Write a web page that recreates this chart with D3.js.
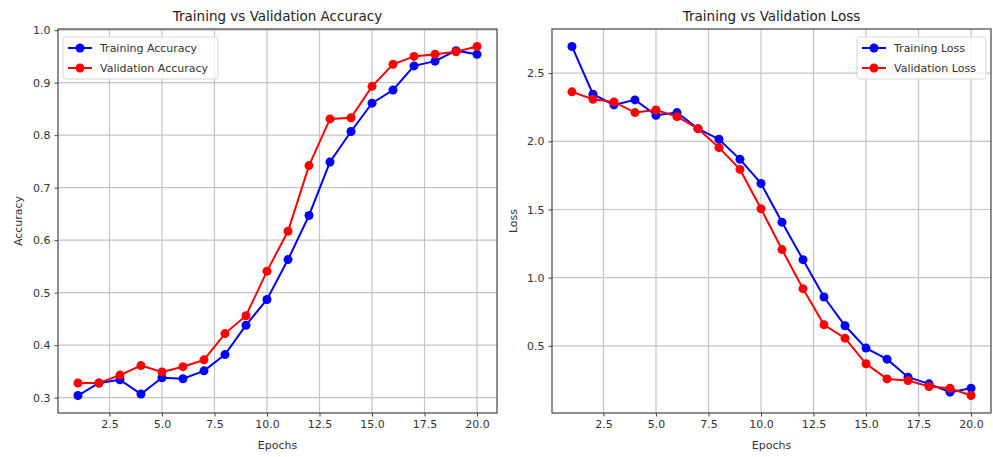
<!DOCTYPE html>
<html>
<head>
<meta charset="utf-8">
<script src="https://cdn.jsdelivr.net/npm/d3@7"></script>
<style>
  body { margin: 0; background: #fff; }
  svg { font-family: "DejaVu Sans", sans-serif; }
</style>
</head>
<body>
<div id="chart"></div>
<script>
// data
var epochs = d3.range(1, 21);
var trainAcc = [0.304, 0.328, 0.334, 0.307, 0.338, 0.336, 0.351, 0.382, 0.438, 0.487,
                0.563, 0.647, 0.749, 0.807, 0.861, 0.886, 0.932, 0.941, 0.961, 0.954];
var valAcc   = [0.328, 0.328, 0.343, 0.361, 0.349, 0.359, 0.372, 0.422, 0.456, 0.541,
                0.617, 0.742, 0.831, 0.833, 0.893, 0.935, 0.950, 0.954, 0.959, 0.969];
var trainLoss = [2.696, 2.346, 2.267, 2.304, 2.191, 2.211, 2.093, 2.015, 1.868, 1.691,
                 1.407, 1.132, 0.858, 0.647, 0.483, 0.402, 0.270, 0.221, 0.160, 0.189];
var valLoss   = [2.363, 2.309, 2.289, 2.211, 2.230, 2.181, 2.093, 1.954, 1.794, 1.505,
                 1.206, 0.919, 0.654, 0.556, 0.368, 0.257, 0.245, 0.201, 0.189, 0.135];
var xTicks = [2.5, 5.0, 7.5, 10.0, 12.5, 15.0, 17.5, 20.0];
var accTicks = [0.3, 0.4, 0.5, 0.6, 0.7, 0.8, 0.9, 1.0];
var lossTicks = [0.5, 1.0, 1.5, 2.0, 2.5];

var svg = d3.select("#chart").append("svg")
    .attr("width", 993)
    .attr("height", 457);

// matplotlib style 5% margins
function padded(vals) {
    var ext = d3.extent(vals), pad = (ext[1] - ext[0]) * 0.05;
    return [ext[0] - pad, ext[1] + pad];
}

function drawPanel(opts) {
    var x = d3.scaleLinear().domain(padded(epochs)).range([opts.left, opts.right]);
    var y = d3.scaleLinear().domain(padded(opts.series[0].values.concat(opts.series[1].values)))
        .range([opts.bottom, opts.top]);

    var g = svg.append("g");

    // grid
    g.selectAll(".gx").data(xTicks).enter().append("line")
        .attr("x1", function(d){ return x(d); }).attr("x2", function(d){ return x(d); })
        .attr("y1", opts.top).attr("y2", opts.bottom)
        .attr("stroke", "#c4c4c4").attr("stroke-width", 1.2);
    g.selectAll(".gy").data(opts.yTicks).enter().append("line")
        .attr("y1", function(d){ return y(d); }).attr("y2", function(d){ return y(d); })
        .attr("x1", opts.left).attr("x2", opts.right)
        .attr("stroke", "#c4c4c4").attr("stroke-width", 1.2);

    // axes
    var xAxis = d3.axisBottom(x).tickValues(xTicks).tickSize(3.5).tickPadding(4)
        .tickFormat(d3.format(".1f"));
    var yAxis = d3.axisLeft(y).tickValues(opts.yTicks).tickSize(3.5).tickPadding(4)
        .tickFormat(d3.format(".1f"));

    var ax = g.append("g").attr("transform", "translate(0," + opts.bottom + ")").call(xAxis);
    var ay = g.append("g").attr("transform", "translate(" + opts.left + ",0)").call(yAxis);
    [ax, ay].forEach(function(a){
        a.select(".domain").remove();
        a.selectAll("line").attr("stroke", "#444");
        a.selectAll("text").style("font-size", "11px").attr("fill", "#333")
            .style("font-family", "DejaVu Sans, sans-serif");
    });

    // lines + markers
    opts.series.forEach(function(s){
        var line = d3.line()
            .x(function(d, i){ return x(epochs[i]); })
            .y(function(d){ return y(d); });
        g.append("path").datum(s.values)
            .attr("d", line)
            .attr("fill", "none")
            .attr("stroke", s.color)
            .attr("stroke-width", 2);
        g.selectAll(null).data(s.values).enter().append("circle")
            .attr("cx", function(d, i){ return x(epochs[i]); })
            .attr("cy", function(d){ return y(d); })
            .attr("r", 4.5)
            .attr("fill", s.color);
    });

    // frame
    g.append("rect")
        .attr("x", opts.left).attr("y", opts.top)
        .attr("width", opts.right - opts.left).attr("height", opts.bottom - opts.top)
        .attr("fill", "none").attr("stroke", "#444").attr("stroke-width", 1.2);

    // title + labels
    g.append("text")
        .attr("x", (opts.left + opts.right) / 2).attr("y", 21)
        .attr("text-anchor", "middle")
        .style("font-size", "13.5px").attr("fill", "#222")
        .text(opts.title);
    g.append("text")
        .attr("x", (opts.left + opts.right) / 2).attr("y", 449)
        .attr("text-anchor", "middle")
        .style("font-size", "11px").attr("fill", "#333")
        .text("Epochs");
    g.append("text")
        .attr("transform", "translate(" + opts.ylabelX + "," + ((opts.top + opts.bottom) / 2) + ") rotate(-90)")
        .attr("text-anchor", "middle")
        .style("font-size", "11px").attr("fill", "#333")
        .text(opts.ylabel);

    // legend
    var lg = g.append("g").attr("transform", "translate(" + opts.legendX + ",37)");
    lg.append("rect")
        .attr("width", opts.legendW).attr("height", 42).attr("rx", 3)
        .attr("fill", "#fff").attr("fill-opacity", 0.8)
        .attr("stroke", "#d8d8d8");
    opts.series.forEach(function(s, i){
        var yy = 11 + i * 20;
        lg.append("line").attr("x1", 5).attr("x2", 29).attr("y1", yy).attr("y2", yy)
            .attr("stroke", s.color).attr("stroke-width", 2);
        lg.append("circle").attr("cx", 17).attr("cy", yy).attr("r", 4.5).attr("fill", s.color);
        lg.append("text").attr("x", 37).attr("y", yy + 4)
            .style("font-size", "11px").attr("fill", "#333")
            .text(s.name);
    });
}

drawPanel({
    left: 58, right: 497, top: 29, bottom: 413,
    title: "Training vs Validation Accuracy",
    ylabel: "Accuracy", ylabelX: 22,
    yTicks: accTicks,
    legendX: 63, legendW: 155,
    series: [
        {name: "Training Accuracy", values: trainAcc, color: "#0000ff"},
        {name: "Validation Accuracy", values: valAcc, color: "#ff0000"}
    ]
});

drawPanel({
    left: 552, right: 991, top: 29, bottom: 413,
    title: "Training vs Validation Loss",
    ylabel: "Loss", ylabelX: 517,
    yTicks: lossTicks,
    legendX: 857, legendW: 129,
    series: [
        {name: "Training Loss", values: trainLoss, color: "#0000ff"},
        {name: "Validation Loss", values: valLoss, color: "#ff0000"}
    ]
});
</script>
</body>
</html>
